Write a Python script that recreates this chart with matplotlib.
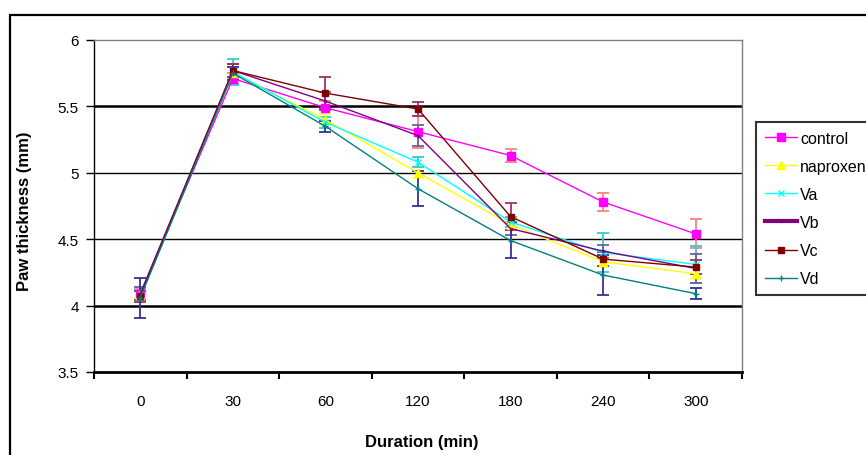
import matplotlib
matplotlib.use("Agg")
import matplotlib.pyplot as plt
from matplotlib.patches import Rectangle
from matplotlib.lines import Line2D
import numpy as np

categories = ["0", "30", "60", "120", "180", "240", "300"]
series_names = ["control", "naproxen", "Va", "Vb", "Vc", "Vd"]

control = [4.09, 5.71, 5.49, 5.31, 5.13, 4.78, 4.54]
naproxen = [4.08, 5.75, 5.40, 5.00, 4.61, 4.33, 4.24]
va = [4.08, 5.76, 5.38, 5.08, 4.63, 4.40, 4.31]
vb = [4.09, 5.77, 5.54, 5.28, 4.58, 4.41, 4.28]
vc = [4.07, 5.77, 5.60, 5.48, 4.67, 4.35, 4.29]
vd = [4.06, 5.75, 5.35, 4.88, 4.49, 4.23, 4.09]

control_err = [0.04, 0.04, 0.05, 0.12, 0.05, 0.07, 0.11]
naproxen_err = [0.03, 0.05, 0.04, 0.04, 0.04, 0.04, 0.04]
va_err = [0.04, 0.10, 0.04, 0.04, 0.04, 0.15, 0.14]
vb_err = [0.05, 0.05, 0.07, 0.08, 0.05, 0.05, 0.11]
vc_err = [0.04, 0.05, 0.12, 0.05, 0.10, 0.05, 0.05]
vd_err = [0.15, 0.05, 0.04, 0.13, 0.13, 0.15, 0.04]

yticks = [3.5, 4, 4.5, 5, 5.5, 6]
ytick_labels = ["3.5", "4", "4.5", "5", "5.5", "6"]

plt.rcParams['font.family'] = ['Liberation Sans', 'DejaVu Sans']

W, H = 866, 456
fig = plt.figure(figsize=(W / 100, H / 100), dpi=100)
fig.patch.set_facecolor("white")

# outer chart border
fig.patches.append(Rectangle((10 / W, -0.05), 1.2, 1 - 15.5 / H + 0.05,
                             transform=fig.transFigure, fill=False,
                             edgecolor="black", linewidth=1.6))

ax = fig.add_axes([94 / W, 1 - 373 / H, (742 - 94) / W, (373 - 41) / H])
ax.set_facecolor("white")

x = np.arange(len(categories))

styles = [
    (control, control_err, "#FF00FF", "s", 5.5, "#FF8080"),
    (naproxen, naproxen_err, "#FFFF00", "^", 5.5, "#FFFF66"),
    (va, va_err, "#00FFFF", "x", 4, "#33CCCC"),
    (vb, vb_err, "#800080", ".", 3, "#666699"),
    (vc, vc_err, "#800000", "s", 4.5, "#993366"),
    (vd, vd_err, "#008080", "+", 4, "#333399"),
]

for name, (vals, errs, col, mk, ms, ecol) in zip(series_names, styles):
    ax.errorbar(x, vals, yerr=errs, fmt="none", ecolor=ecol, elinewidth=1.3,
                capsize=4, capthick=1.3, zorder=3)
    ax.plot(x, vals, color=col, marker=mk, markersize=ms, linewidth=1.0,
            markeredgecolor=col, markerfacecolor=col, zorder=4)

ax.set_xlim(-0.5, len(categories) - 0.5)
ax.set_ylim(3.5, 6)

# gridlines
for yv in [4, 4.5, 5, 5.5]:
    lw = 1.8 if yv in (4, 5.5) else 1.0
    ax.axhline(yv, color="black", linewidth=lw, zorder=1)

ax.set_yticks(yticks)
ax.set_yticklabels(ytick_labels)
ax.tick_params(axis="y", direction="out", length=6, width=1, pad=5,
               labelsize=11, colors="black")

ax.set_xticks(np.arange(-0.5, len(categories), 1.0))
ax.set_xticklabels([])
ax.set_xticks(x, minor=True)
ax.set_xticklabels(categories, minor=True)
ax.tick_params(axis="x", which="major", direction="out", length=5, width=1.5)
ax.tick_params(axis="x", which="minor", length=0, pad=16, labelsize=11)

for side in ["top", "right"]:
    ax.spines[side].set_color("#808080")
    ax.spines[side].set_linewidth(1.0)
ax.spines["left"].set_color("black")
ax.spines["left"].set_linewidth(1.0)
ax.spines["bottom"].set_color("black")
ax.spines["bottom"].set_linewidth(2.0)

fig.text(25 / W, 1 - 211 / H, "Paw thickness (mm)", rotation=90,
         ha="center", va="center", fontsize=12, fontweight="bold")
fig.text(422 / W, 1 - 443 / H, "Duration (min)", ha="center", va="center",
         fontsize=12, fontweight="bold")

leg_handles = []
for name, (vals, errs, col, mk, ms, ecol) in zip(series_names, styles):
    lwl = 3 if name == "Vb" else 1.0
    leg_handles.append(Line2D([], [], color=col, marker=mk, markersize=ms,
                              linewidth=lwl, markerfacecolor=col,
                              markeredgecolor=col))

leg = fig.legend(leg_handles, series_names, loc="upper left",
                 bbox_to_anchor=(756 / W, 1 - 123 / H), frameon=True,
                 fontsize=11.5, labelspacing=0.82, handlelength=2.0,
                 handletextpad=0.2, borderpad=0.55, borderaxespad=0,
                 fancybox=False)
leg.get_frame().set_edgecolor("black")
leg.get_frame().set_linewidth(1.5)

fig.savefig("out.png", dpi=100, facecolor="white")
